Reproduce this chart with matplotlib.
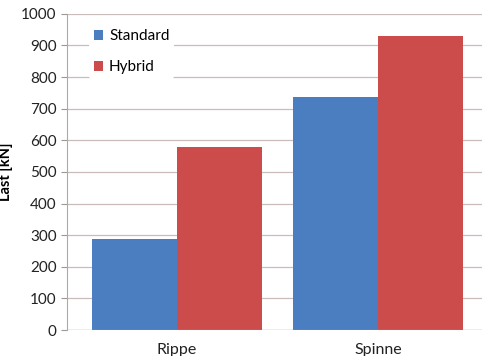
import matplotlib
matplotlib.use("Agg")
import matplotlib.pyplot as plt
import numpy as np

categories = ["Rippe", "Spinne"]
standard = [288, 736]
hybrid = [579, 930]
yticks = list(range(0, 1001, 100))

BLUE = "#4a7ec0"
RED = "#cc4b4b"
GRID = "#cbbcbc"

plt.rcParams["font.family"] = ["Lato", "DejaVu Sans"]

fig = plt.figure(figsize=(4.82, 3.56), dpi=100)
ax = fig.add_axes([0.139, 0.073, 0.861, 0.888])

x = np.arange(len(categories))
w = 0.423
ax.bar(x - w / 2, standard, w, color=BLUE, label="Standard", zorder=3)
ax.bar(x + w / 2, hybrid, w, color=RED, label="Hybrid", zorder=3)

ax.set_xlim(-0.547, 1.517)
ax.set_ylim(0, 1000)
ax.set_yticks(yticks)
ax.set_xticks(x)
ax.set_xticklabels(categories)
ax.yaxis.grid(True, color=GRID, lw=0.9, zorder=0)
ax.tick_params(axis="y", length=4, color="#999999", labelsize=11, colors="#222222")
ax.tick_params(axis="x", length=0, labelsize=11.5, pad=9, colors="#222222")
for s in ("top", "right", "bottom"):
    ax.spines[s].set_visible(False)
ax.spines["left"].set_color("#aaaaaa")
ax.axhline(0, color="#aaaaaa", lw=0.9, zorder=4)

ax.set_ylabel("Last [kN]", fontsize=10.5, fontweight="bold", labelpad=6)

leg = ax.legend(loc="upper left", bbox_to_anchor=(0.035, 0.99), frameon=True,
                facecolor="white", edgecolor="none", framealpha=1,
                fontsize=11, handlelength=0.6, handleheight=0.6,
                handletextpad=0.4, labelspacing=1.1, borderpad=0.3)
leg.set_zorder(5)

fig.savefig("out.png", dpi=100)
